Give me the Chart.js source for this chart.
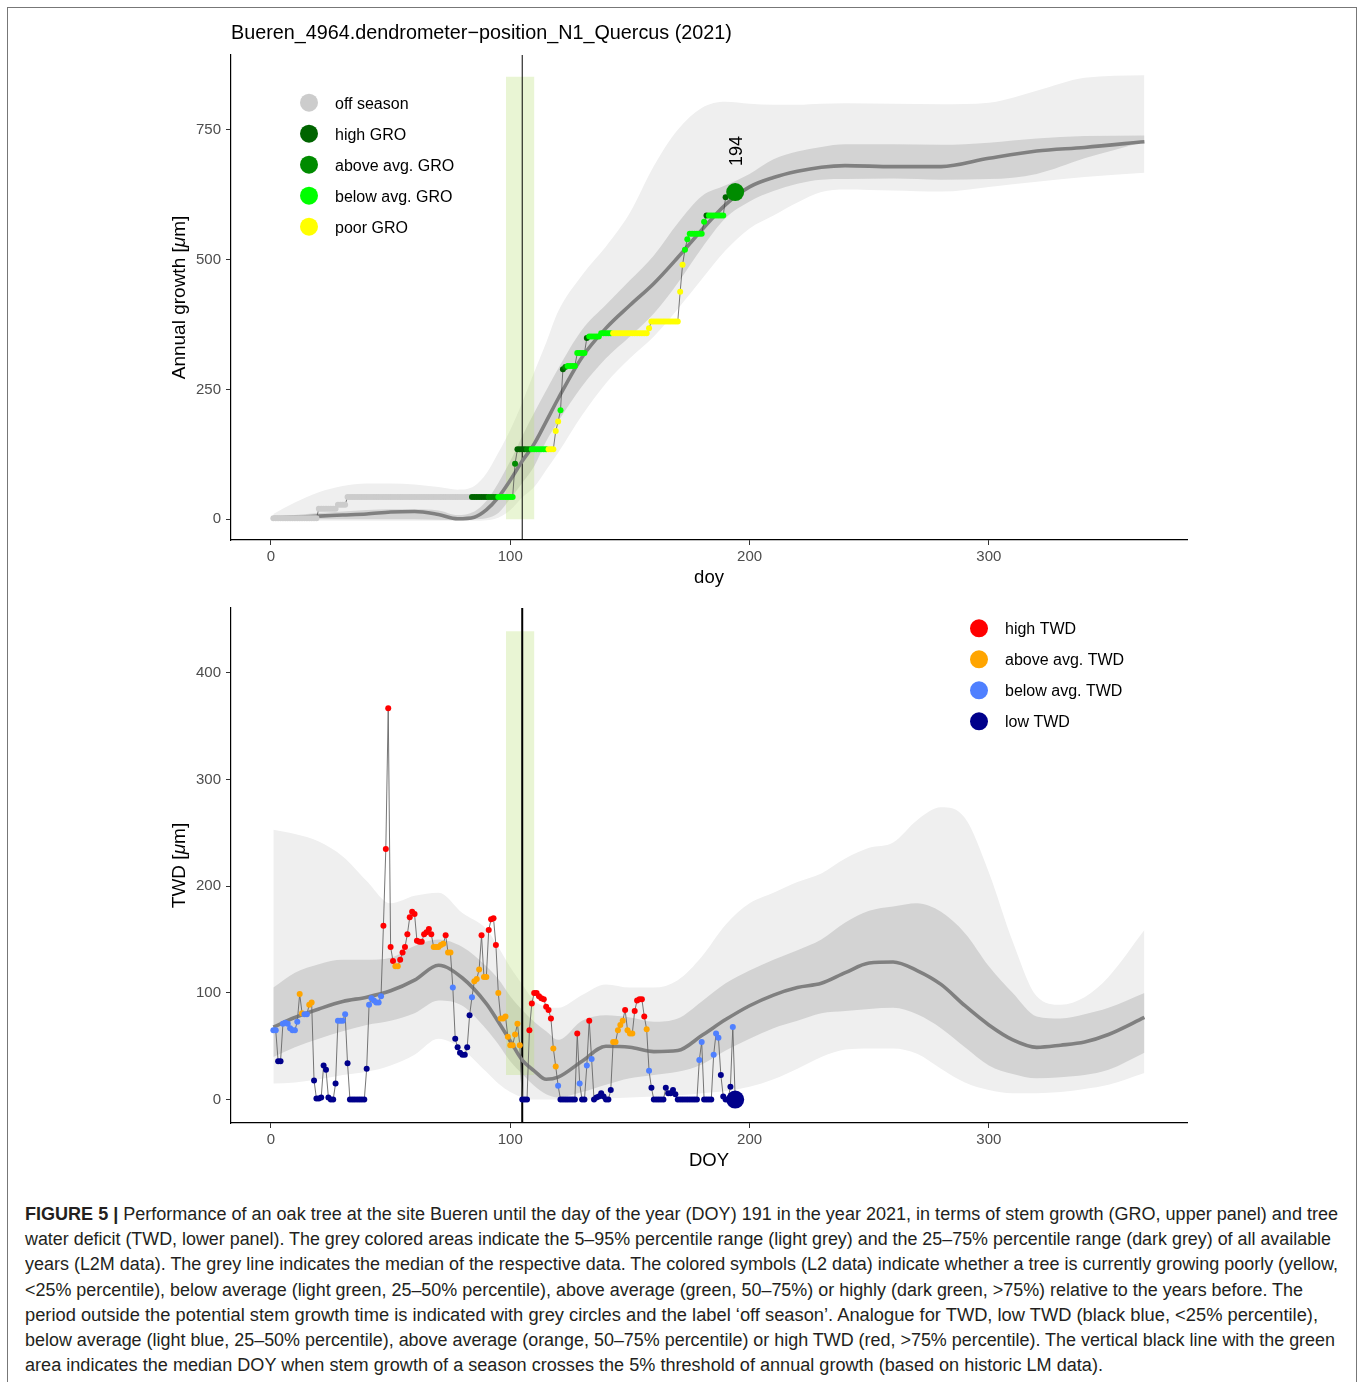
<!DOCTYPE html>
<html>
<head>
<meta charset="utf-8">
<title>Bueren_4964 dendrometer N1 Quercus 2021</title>
<script src="https://cdn.jsdelivr.net/npm/chart.js@4.4.1/dist/chart.umd.min.js"></script>
<style>
  body { margin: 0; background: #fff; }
  #frame { position: absolute; left: 7px; top: 7px; width: 1348px; height: 1400px; border: 1px solid #777; border-bottom: none; }
  canvas { position: absolute; left: 0; }
  #groChart { top: 0; }
  #twdChart { top: 570px; }
  #caption { position: absolute; left: 25px; top: 1202px; font: 18px "Liberation Sans", Arial, sans-serif; color: #231f20; }
  #caption div { white-space: nowrap; height: 25.2px; line-height: 25.2px; }
  #caption span { display: inline-block; transform-origin: 0 50%; }
</style>
</head>
<body>
<div id="frame"></div>
<canvas id="groChart" width="1360" height="600"></canvas>
<canvas id="twdChart" width="1360" height="620"></canvas>
<div id="caption">
  <div><span><b>FIGURE 5 |</b> Performance of an oak tree at the site Bueren until the day of the year (DOY) 191 in the year 2021, in terms of stem growth (GRO, upper panel) and tree</span></div>
  <div><span>water deficit (TWD, lower panel). The grey colored areas indicate the 5–95% percentile range (light grey) and the 25–75% percentile range (dark grey) of all available</span></div>
  <div><span>years (L2M data). The grey line indicates the median of the respective data. The colored symbols (L2 data) indicate whether a tree is currently growing poorly (yellow,</span></div>
  <div><span>&lt;25% percentile), below average (light green, 25–50% percentile), above average (green, 50–75%) or highly (dark green, &gt;75%) relative to the years before. The</span></div>
  <div><span>period outside the potential stem growth time is indicated with grey circles and the label ‘off season’. Analogue for TWD, low TWD (black blue, &lt;25% percentile),</span></div>
  <div><span>below average (light blue, 25–50% percentile), above average (orange, 50–75% percentile) or high TWD (red, &gt;75% percentile). The vertical black line with the green</span></div>
  <div><span>area indicates the median DOY when stem growth of a season crosses the 5% threshold of annual growth (based on historic LM data).</span></div>
</div>
<script>
// tick labels
const xTicks = [0, 100, 200, 300];
const groTicks = [0, 250, 500, 750];
const twdTicks = [0, 100, 200, 300, 400];

// daily series start at doy 1
const firstDoy = 1;

// stem growth (GRO) per day, doy 1..190
const groValues = [
  2, 2, 2, 2, 2, 2, 2, 2, 2, 2,
  2, 2, 2, 2, 2, 2, 2, 2, 2, 20,
  20, 20, 20, 20, 20, 20, 20, 28, 28, 28,
  28, 43, 43, 43, 43, 43, 43, 43, 43, 43,
  43, 43, 43, 43, 43, 43, 43, 43, 43, 43,
  43, 43, 43, 43, 43, 43, 43, 43, 43, 43,
  43, 43, 43, 43, 43, 43, 43, 43, 43, 43,
  43, 43, 43, 43, 43, 43, 43, 43, 43, 43,
  43, 43, 43, 43, 43, 43, 43, 43, 43, 43,
  43, 43, 43, 43, 43, 43, 43, 43, 43, 43,
  43, 107, 135, 135, 135, 135, 135, 135, 135, 135,
  135, 135, 135, 135, 135, 135, 135, 135, 170, 188,
  210, 289, 293, 295, 295, 295, 295, 320, 320, 320,
  320, 349, 352, 352, 352, 352, 352, 358, 358, 358,
  358, 358, 358, 358, 358, 358, 358, 358, 358, 358,
  358, 358, 358, 358, 358, 358, 358, 368, 381, 381,
  381, 381, 381, 381, 381, 381, 381, 381, 381, 381,
  438, 490, 519, 539, 550, 550, 550, 550, 550, 550,
  573, 585, 585, 585, 585, 585, 585, 585, 585, 620
];
// O off season, H high, A above avg., B below avg., P poor
const groClass = [
  'OOOOOOOOOO', 'OOOOOOOOOO', 'OOOOOOOOOO', 'OOOOOOOOOO',
  'OOOOOOOOOO', 'OOOOOOOOOO', 'OOOOOOOOOO', 'OOOOOOOOOO',
  'OOOHHHHHHH', 'AAAABBBBBB', 'BAHHHHAABB', 'BBBBBPPPPP',
  'BHABBBBBBB', 'BHBBBBBBBB', 'BBPPPPPPPP', 'PPPPPPPPPP',
  'PPPPPPPPPP', 'PPBBBBBBBB', 'BHBBBBBBBH'
].join('');

// tree water deficit (TWD) per day, doy 1..193
const twdValues = [
  65, 65, 36, 36, 71, 72, 71, 67, 65, 65,
  73, 99, 81, 80, 80, 89, 91, 18, 1, 1,
  2, 32, 28, 2, 0, 0, 15, 74, 74, 74,
  80, 34, 0, 0, 0, 0, 0, 0, 0, 29,
  89, 95, 93, 91, 91, 97, 163, 235, 367, 143,
  130, 125, 125, 131, 138, 143, 155, 171, 176, 174,
  149, 148, 148, 155, 157, 160, 155, 143, 143, 143,
  145, 146, 154, 138, 138, 105, 57, 49, 44, 42,
  42, 49, 79, 96, 111, 113, 122, 154, 115, 115,
  159, 169, 170, 145, 100, 76, 76, 78, 59, 51,
  51, 61, 71, 51, 0, 0, 0, 65, 90, 100,
  100, 97, 95, 94, 87, 84, 76, 48, 31, 13,
  0, 0, 0, 0, 0, 0, 0, 62, 15, 0,
  0, 32, 74, 38, 0, 2, 3, 6, 3, 0,
  0, 9, 54, 54, 65, 70, 74, 84, 65, 62,
  62, 83, 93, 94, 94, 78, 66, 27, 11, 0,
  0, 0, 0, 0, 11, 6, 6, 9, 5, 0,
  0, 0, 0, 0, 0, 0, 0, 0, 37, 54,
  0, 0, 0, 0, 42, 62, 58, 23, 3, 0,
  0, 12, 68
];
// H high, A above avg., B below avg., L low
const twdClass = [
  'BBLLBBBBBB', 'BAABBAALLL', 'LLLLLLLBBB', 'BLLLLLLLLL',
  'BBBBBBHHHH', 'HAAHHHHHHH', 'HHHHHHHAAA', 'AAHAABLLLL',
  'LLLBAAAHAA', 'HHHHAAAAAA', 'AAAALLLHHH', 'HHHHHHHAAB',
  'LLLLLLLHBL', 'LBHBLLLLLL', 'LLAAAAAHAA', 'AHHHHHABLL',
  'LLLLLLLLLL', 'LLLLLLLLBB', 'LLLLBBBLLL', 'LLB'
].join('');

// latest measurement (highlighted)
const lastDoy = 194;
const lastGro = 630;
const lastGroClass = 'A';
const lastTwd = 0;
const lastTwdClass = 'L';

// median doy of growth onset and its range
const onsetDoy = 105;
const onsetRange = [98.2, 110.1];
const onsetGro = [0, 852];
const onsetTwd = [23, 439];

// historic percentiles, GRO
const groBandDoy = [1, 10, 20, 30, 40, 50, 60, 70, 78, 85, 90, 95, 100, 105, 110, 115, 120, 130, 140, 150,
                    160, 170, 180, 190, 200, 210, 220, 230, 240, 260, 280, 300, 320, 340, 365];
const groP95 = [10, 32, 52, 64, 69, 69, 67, 62, 57, 64, 88, 128, 172, 225, 283, 340, 400, 470, 525, 590,
                680, 750, 792, 804, 800, 798, 798, 800, 801, 800, 799, 802, 825, 850, 855];
const groP75 = [5, 8, 12, 15, 18, 19, 19, 17, 8, 15, 35, 70, 112, 160, 205, 248, 290, 365, 413, 460,
                508, 570, 622, 643, 665, 693, 708, 717, 722, 722, 721, 725, 733, 738, 739];
const groP50 = [3, 4, 6, 8, 10, 14, 15, 9, 1, 4, 18, 42, 75, 112, 145, 188, 232, 312, 368, 412,
                454, 504, 557, 606, 640, 658, 670, 678, 681, 679, 679, 695, 709, 716, 727];
const groP25 = [0, 0, 0, 0, 0, 0, 0, -1, -2, 0, 2, 12, 40, 70, 102, 150, 188, 256, 310, 352,
                396, 455, 522, 580, 612, 632, 646, 654, 655, 656, 654, 655, 665, 695, 727];
const groP05 = [-3, -3, -3, -3, -3, -3, -3, -3, -3, -3, -2, 3, 18, 42, 62, 95, 128, 200, 262, 310,
                352, 405, 462, 518, 560, 585, 610, 630, 635, 633, 631, 640, 650, 659, 667];

// historic percentiles, TWD
const twdBandDoy = [1, 10, 20, 30, 40, 50, 60, 70, 80, 90, 95, 100, 105, 110, 115, 120, 130, 140, 150, 160,
                    170, 180, 190, 200, 210, 220, 230, 240, 250, 260, 270, 280, 290, 300, 310, 320, 330, 340, 350, 365];
const twdP95 = [253, 249, 242, 228, 205, 184, 191, 194, 175, 160, 143, 124, 108, 93, 87, 86, 98, 108, 105, 105,
                112, 134, 164, 184, 194, 204, 212, 226, 236, 241, 262, 274, 264, 213, 148, 97, 89, 96, 115, 159];
const twdP75 = [105, 119, 127, 131, 131, 133, 144, 150, 143, 125, 113, 97, 84, 73, 64, 56, 74, 79, 77, 73,
                76, 92, 109, 121, 131, 140, 150, 166, 177, 181, 184, 176, 156, 125, 100, 78, 76, 80, 86, 100];
const twdP50 = [68, 77, 85, 92, 96, 102, 112, 126, 114, 90, 73, 55, 37, 27, 19, 21, 36, 50, 49, 45,
                46, 60, 75, 88, 98, 105, 109, 119, 128, 129, 121, 108, 88, 70, 56, 49, 51, 54, 61, 77];
const twdP25 = [40, 49, 57, 64, 70, 74, 81, 93, 88, 66, 52, 36, 24, 13, 5, 2, 7, 14, 20, 23,
                26, 33, 46, 57, 67, 74, 81, 83, 85, 86, 80, 67, 49, 32, 24, 20, 21, 23, 28, 44];
const twdP05 = [15, 16, 19, 23, 26, 32, 42, 57, 47, 26, 15, 7, 2, 0, 0, 0, 0, 1, 2, 3,
                4, 6, 8, 12, 19, 29, 40, 47, 48, 48, 43, 29, 16, 9, 6, 6, 7, 10, 14, 25];

const groColors = { O: '#cccccc', H: '#006400', A: '#008b00', B: '#00ff00', P: '#ffff00' };
const twdColors = { H: '#ff0000', A: '#ffa500', B: '#4f80ff', L: '#00008b' };

const groLegend = [
  ['off season', 'O'], ['high GRO', 'H'], ['above avg. GRO', 'A'], ['below avg. GRO', 'B'], ['poor GRO', 'P']
];
const twdLegend = [
  ['high TWD', 'H'], ['above avg. TWD', 'A'], ['below avg. TWD', 'B'], ['low TWD', 'L']
];

const FONT = '"Liberation Sans", Arial, Helvetica, sans-serif';
Chart.defaults.font.family = FONT;

const toXY = (xs, ys) => xs.map((x, i) => ({ x: x, y: ys[i] }));
const daily = vals => vals.map((v, i) => ({ x: firstDoy + i, y: v }));

function drawRich(ctx, parts, x, y, size) {
  let total = 0;
  parts.forEach(p => {
    ctx.font = (p[1] ? 'italic ' : '') + size + 'px ' + FONT;
    total += ctx.measureText(p[0]).width;
  });
  let cx = x - total / 2;
  ctx.textAlign = 'left';
  parts.forEach(p => {
    ctx.font = (p[1] ? 'italic ' : '') + size + 'px ' + FONT;
    ctx.fillText(p[0], cx, y);
    cx += ctx.measureText(p[0]).width;
  });
}

// titles, axis labels, legend, point label
function decor(cfg) {
  return {
    id: 'decor',
    afterDraw(chart) {
      const { ctx, chartArea: a, scales } = chart;
      ctx.save();
      ctx.fillStyle = '#000';
      ctx.textBaseline = 'middle';
      if (cfg.title) {
        ctx.font = '19.8px ' + FONT;
        ctx.textAlign = 'left';
        ctx.fillText(cfg.title, a.left, cfg.titleY);
      }
      ctx.font = '18.5px ' + FONT;
      ctx.textAlign = 'center';
      ctx.fillText(cfg.xTitle, (a.left + a.right) / 2, a.bottom + 38);

      ctx.save();
      ctx.translate(a.left - 51, (a.top + a.bottom) / 2);
      ctx.rotate(-Math.PI / 2);
      drawRich(ctx, cfg.yTitle, 0, 0, 19);
      ctx.restore();

      cfg.legend.forEach((it, i) => {
        const y = cfg.legendY + i * 31;
        ctx.beginPath();
        ctx.arc(cfg.legendX, y, 9, 0, Math.PI * 2);
        ctx.fillStyle = cfg.colors[it[1]];
        ctx.fill();
        ctx.fillStyle = '#000';
        ctx.font = '16px ' + FONT;
        ctx.textAlign = 'left';
        ctx.fillText(it[0], cfg.legendX + 26, y + 1.5);
      });

      if (cfg.mark) {
        const px = scales.x.getPixelForValue(cfg.mark.x);
        const py = scales.y.getPixelForValue(cfg.mark.y) - 41;
        ctx.save();
        ctx.translate(px, py);
        ctx.rotate(-Math.PI / 2);
        ctx.font = '18px ' + FONT;
        ctx.textAlign = 'center';
        ctx.fillText(cfg.mark.text, 0, 2);
        ctx.restore();
      }
      ctx.restore();
    }
  };
}

function xAxis(height) {
  return {
    type: 'linear', min: -16.7, max: 382.8,
    afterBuildTicks: s => { s.ticks = xTicks.map(v => ({ value: v })); },
    afterFit: s => { s.height = height; },
    ticks: { color: '#4d4d4d', font: { size: 15 }, padding: 3, maxRotation: 0, autoSkip: false },
    grid: { drawOnChartArea: false, tickLength: 5, tickColor: '#333', tickWidth: 1 },
    border: { color: '#000', width: 1.2 }
  };
}
function yAxis(min, max, tickList) {
  return {
    type: 'linear', min: min, max: max,
    afterBuildTicks: s => { s.ticks = tickList.map(v => ({ value: v })); },
    afterFit: s => { s.width = 231; },
    ticks: { color: '#4d4d4d', font: { size: 15 }, padding: 5, autoSkip: false },
    grid: { drawOnChartArea: false, tickLength: 5, tickColor: '#333', tickWidth: 1 },
    border: { color: '#000', width: 1.2 }
  };
}

function bandSets(doys, p05, p25, p50, p75, p95, base) {
  const edge = { borderColor: 'rgba(0,0,0,0)', borderWidth: 0, pointRadius: 0, cubicInterpolationMode: 'monotone', fill: false };
  return [
    Object.assign({}, edge, { data: toXY(doys, p05), order: 9 }),
    Object.assign({}, edge, { data: toXY(doys, p95), order: 8, fill: { target: base }, backgroundColor: '#efefef' }),
    Object.assign({}, edge, { data: toXY(doys, p25), order: 7 }),
    Object.assign({}, edge, { data: toXY(doys, p75), order: 6, fill: { target: base + 2 }, backgroundColor: '#d3d3d3' }),
    { data: toXY(doys, p50), order: 3, borderColor: '#808080', borderWidth: 3.6, pointRadius: 0, cubicInterpolationMode: 'monotone', fill: false }
  ];
}

function onsetSets(range, yr, lineWidth) {
  return [
    { data: [{ x: range[0], y: yr[1] }, { x: range[1], y: yr[1] }], order: 5, borderColor: 'rgba(0,0,0,0)', borderWidth: 0,
      pointRadius: 0, fill: { value: yr[0] }, backgroundColor: 'rgba(186,224,120,0.32)' },
    { data: [{ x: onsetDoy, y: -1000 }, { x: onsetDoy, y: 5000 }], order: 4, borderColor: '#000', borderWidth: lineWidth, pointRadius: 0, fill: false }
  ];
}

function pointSet(vals, classes, colors, lastX, lastY, lastClass, lineColor, lineWidth) {
  const pts = daily(vals).concat([{ x: lastX, y: lastY }]);
  const cls = classes + lastClass;
  const n = pts.length - 1;
  return {
    data: pts, order: 0, showLine: true, tension: 0,
    borderColor: lineColor, borderWidth: lineWidth,
    pointRadius: ctx => ctx.dataIndex === n ? 9 : 3,
    pointBackgroundColor: ctx => colors[cls[ctx.dataIndex]],
    pointBorderWidth: 0, pointBorderColor: 'rgba(0,0,0,0)', fill: false
  };
}

const commonOpts = {
  responsive: false, animation: false, events: [],
  plugins: { legend: { display: false }, tooltip: { enabled: false } }
};

// upper panel: annual growth
new Chart(document.getElementById('groChart'), {
  type: 'line',
  data: {
    datasets: [].concat(
      bandSets(groBandDoy, groP05, groP25, groP50, groP75, groP95, 0),
      onsetSets(onsetRange, onsetGro, 1),
      [pointSet(groValues, groClass, groColors, lastDoy, lastGro, lastGroClass, '#444', 0.7)]
    )
  },
  options: Object.assign({}, commonOpts, {
    layout: { padding: { left: 0, right: 173, top: 55, bottom: 0 } },
    scales: { x: xAxis(60), y: yAxis(-40, 894, groTicks) }
  }),
  plugins: [decor({
    title: 'Bueren_4964.dendrometer\u2212position_N1_Quercus (2021)', titleY: 34,
    xTitle: 'doy', yTitle: [['Annual growth [', false], ['\u03bc', true], ['m]', false]],
    legend: groLegend, colors: groColors, legendX: 309, legendY: 102.7,
    mark: { x: lastDoy, y: lastGro, text: String(lastDoy) }
  })]
});

// lower panel: tree water deficit
new Chart(document.getElementById('twdChart'), {
  type: 'line',
  data: {
    datasets: [].concat(
      bandSets(twdBandDoy, twdP05, twdP25, twdP50, twdP75, twdP95, 0),
      onsetSets(onsetRange, onsetTwd, 2),
      [pointSet(twdValues, twdClass, twdColors, lastDoy, lastTwd, lastTwdClass, '#666', 0.9)]
    )
  },
  options: Object.assign({}, commonOpts, {
    layout: { padding: { left: 0, right: 173, top: 38, bottom: 0 } },
    scales: { x: xAxis(67), y: yAxis(-21.95, 460.9, twdTicks) }
  }),
  plugins: [decor({
    xTitle: 'DOY', yTitle: [['TWD [', false], ['\u03bc', true], ['m]', false]],
    legend: twdLegend, colors: twdColors, legendX: 979, legendY: 58.3
  })]
});

// caption lines stretched to the widths they have in the figure
const captionWidths = [1313, 1306, 1313, 1278, 1293, 1310, 1078];
document.querySelectorAll('#caption span').forEach((s, i) => {
  const w = s.getBoundingClientRect().width;
  s.style.transform = 'scaleX(' + (captionWidths[i] / w) + ')';
});
</script>
</body>
</html>
